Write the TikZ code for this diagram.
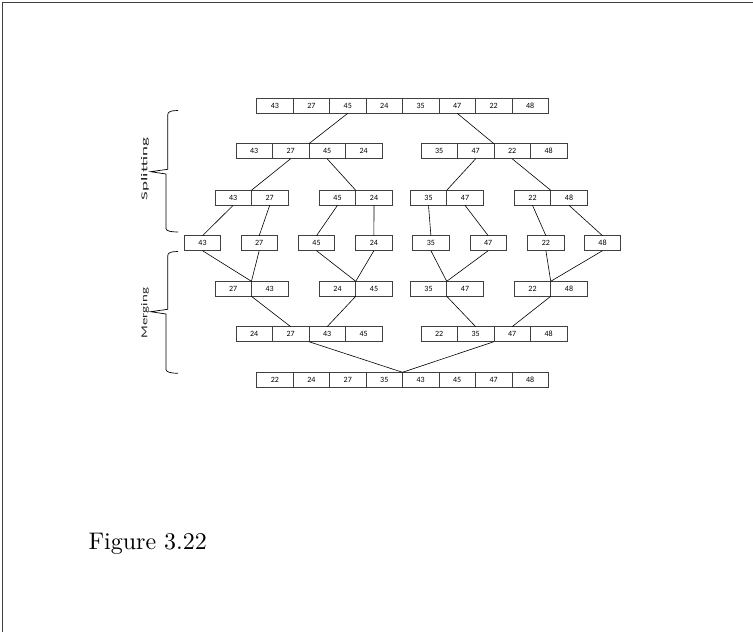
\documentclass[tikz,border=0pt]{standalone}
\usepackage{fontspec}
\newfontfamily\cellfont{Carlito}
\newfontfamily\splitfont{Carlito}[FakeStretch=2.1]
\newfontfamily\mergefont{Carlito}[FakeStretch=1.65]
\newfontfamily\capfont{lmroman10-regular}[Extension=.otf]

\tikzset{
  cell/.style={draw=black!75, line width=0.6pt, minimum width=36.45pt, minimum height=15pt,
    inner sep=0pt, outer sep=0pt, font=\cellfont\fontsize{8}{9}\selectfont},
  link/.style={line width=0.6pt},
  brace/.style={line width=0.7pt},
  side/.style={rotate=90, inner sep=0pt, text=black!85}
}

\begin{document}
\begin{tikzpicture}[x=1pt,y=-1pt]
  \useasboundingbox (0,0) rectangle (753,632);
  % frame
  \draw[line width=1.4pt, black!75] (2.5,632) -- (2.5,2.5) -- (753,2.5);

  % rows of cells
  \foreach \v/\x [count=\i] in {43/274.9,27/311.4,45/347.8,24/384.3,35/420.7,47/457.2,22/493.6,48/530.1}
    \node[cell] (r0c\i) at (\x,105.8) {\v};
  \foreach \v/\x [count=\i] in {43/254.2,27/290.7,45/327.1,24/363.6,35/439.2,47/475.7,22/512.1,48/548.6}
    \node[cell] (r1c\i) at (\x,151.2) {\v};
  \foreach \v/\x [count=\i] in {43/233.2,27/269.7,45/337.5,24/374.0,35/428.5,47/465.0,22/532.5,48/569.0}
    \node[cell] (r2c\i) at (\x,197.8) {\v};
  \foreach \v/\x [count=\i] in {43/202.5,27/259.2,45/316.5,24/373.9,35/430.9,47/488.2,22/545.9,48/602.5}
    \node[cell] (r3c\i) at (\x,243.2) {\v};
  \foreach \v/\x [count=\i] in {27/233.2,43/269.7,24/337.5,45/374.0,35/428.5,47/465.0,22/532.5,48/569.0}
    \node[cell] (r4c\i) at (\x,288.8) {\v};
  \foreach \v/\x [count=\i] in {24/254.2,27/290.7,43/327.1,45/363.6,22/439.2,35/475.7,47/512.1,48/548.6}
    \node[cell] (r5c\i) at (\x,334.2) {\v};
  \foreach \v/\x [count=\i] in {22/274.9,24/311.4,27/347.8,35/384.3,43/420.7,45/457.2,47/493.6,48/530.1}
    \node[cell] (r6c\i) at (\x,379.8) {\v};

  % splitting
  \foreach \a/\b in {r0c3.south/r1c2.north east, r0c6.south/r1c6.north east,
      r1c2.south/r2c1.north east, r1c3.south/r2c3.north east,
      r1c6.south/r2c5.north east, r1c7.south/r2c7.north east}
    \draw[link] (\a) -- (\b);
  \foreach \i in {1,...,8}
    \draw[link] (r2c\i.south) -- (r3c\i.north);

  % merging
  \foreach \i/\j in {1/1,2/1,3/3,4/3,5/5,6/5,7/7,8/7}
    \draw[link] (r3c\i.south) -- (r4c\j.north east);
  \foreach \a/\b in {r4c1.south east/r5c2.north, r4c3.south east/r5c3.north,
      r4c5.south east/r5c6.north, r4c7.south east/r5c7.north,
      r5c2.south east/r6c4.north east, r5c6.south east/r6c4.north east}
    \draw[link] (\a) -- (\b);

  % braces
  \draw[brace] (178,110.5) .. controls (171,110.5) and (167.7,111.5) .. (167.7,115)
    -- (167.7,169.3) -- (150.7,171.7) -- (166,174) -- (166,228.5)
    .. controls (166,231) and (171,232) .. (178,232);
  \draw[brace] (178,251.5) .. controls (171,251.5) and (167.7,252.5) .. (167.7,256)
    -- (167.7,309.3) -- (150.7,311.7) -- (166,314) -- (166,369.5)
    .. controls (166,372) and (171,373.3) .. (178,373.3);
  \node[side, font=\splitfont\fontsize{9}{10}\selectfont] (split) at (145,169) {Splitting};
  \node[side, font=\mergefont\fontsize{9}{10}\selectfont] (merge) at (145,313) {Merging};

  \node[anchor=base west, inner sep=0pt, font=\capfont\fontsize{24}{28}\selectfont] (caption) at (88.3,549) {Figure 3.22};
\end{tikzpicture}
\end{document}
